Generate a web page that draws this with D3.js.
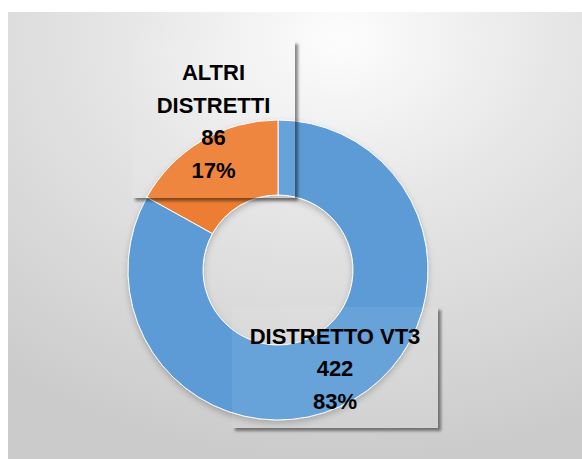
<!DOCTYPE html>
<html>
<head>
<meta charset="utf-8">
<script src="https://cdn.jsdelivr.net/npm/d3@7"></script>
<style>
  body { margin: 0; background: #fff; }
  svg { display: block; }
</style>
</head>
<body>
<div id="chart"></div>
<script>
const width = 582, height = 459;

// data
const categories = ["DISTRETTO VT3", "ALTRI DISTRETTI"];
const values = [422, 86];
const labelLines = [["DISTRETTO VT3"], ["ALTRI", "DISTRETTI"]];
const colors = ["#5B9BD5", "#ED7D31"];

// layout
const panel = { x: 8, y: 12, w: 574, h: 447 };
const cx = 278, cy = 270, outerR = 150, innerR = 75;
const labelBoxes = [
  { x: 232, y: 307, w: 206, h: 121, dy: 1 },
  { x: 132, y: 41, w: 163, h: 157, dy: 2 }
];

const svg = d3.select("#chart").append("svg")
  .attr("width", width)
  .attr("height", height);

const defs = svg.append("defs");

const bg = defs.append("radialGradient")
  .attr("id", "bgGrad")
  .attr("cx", 0.58).attr("cy", 0.06).attr("r", 0.95)
  .attr("fx", 0.58).attr("fy", 0.06);
bg.append("stop").attr("offset", "0%").attr("stop-color", "#fdfdfd");
bg.append("stop").attr("offset", "40%").attr("stop-color", "#e6e6e6");
bg.append("stop").attr("offset", "100%").attr("stop-color", "#cbcbcb");

const donutShadow = defs.append("filter").attr("id", "donutShadow")
  .attr("x", "-20%").attr("y", "-20%").attr("width", "140%").attr("height", "140%");
donutShadow.append("feDropShadow")
  .attr("dx", 0).attr("dy", 3).attr("stdDeviation", 3)
  .attr("flood-color", "#000").attr("flood-opacity", 0.22);

const blur = defs.append("filter").attr("id", "boxBlur")
  .attr("x", "-20%").attr("y", "-20%").attr("width", "140%").attr("height", "140%");
blur.append("feGaussianBlur").attr("stdDeviation", 1.6);

svg.append("rect")
  .attr("x", panel.x).attr("y", panel.y)
  .attr("width", panel.w).attr("height", panel.h)
  .attr("fill", "url(#bgGrad)");

const pie = d3.pie().sort(null).value(d => d);
const arc = d3.arc().innerRadius(innerR).outerRadius(outerR);
const arcs = pie(values);

const g = svg.append("g")
  .attr("transform", `translate(${cx},${cy})`)
  .attr("filter", "url(#donutShadow)");

g.selectAll("path")
  .data(arcs)
  .join("path")
  .attr("d", arc)
  .attr("fill", (d, i) => colors[i])
  .attr("stroke", "#fff")
  .attr("stroke-width", 1);

// label boxes with shadow outside the box only
const fmtPct = d3.format(".0%");
const total = d3.sum(values);

labelBoxes.forEach((b, i) => {
  const clipId = "clipOut" + i;
  defs.append("clipPath").attr("id", clipId)
    .append("path")
    .attr("clip-rule", "evenodd")
    .attr("d", `M0,0H${width}V${height}H0Z M${b.x},${b.y}H${b.x + b.w}V${b.y + b.h}H${b.x}Z`);

  svg.append("g").attr("clip-path", `url(#${clipId})`)
    .append("rect")
    .attr("x", b.x + 3).attr("y", b.y + 3)
    .attr("width", b.w).attr("height", b.h)
    .attr("fill", "#000").attr("fill-opacity", 0.45)
    .attr("filter", "url(#boxBlur)");

  svg.append("rect")
    .attr("x", b.x).attr("y", b.y)
    .attr("width", b.w).attr("height", b.h)
    .attr("fill", "#fff").attr("fill-opacity", 0.07);

  const lines = labelLines[i].concat([String(values[i]), fmtPct(values[i] / total)]);
  const lineH = 32.5;
  const midX = b.x + b.w / 2;
  const firstBase = b.y + b.h / 2 - (lines.length - 1) * lineH / 2 + 7.5 + b.dy;

  svg.append("text")
    .attr("text-anchor", "middle")
    .attr("font-family", "'Liberation Sans', Arial, sans-serif")
    .attr("font-weight", "bold")
    .attr("font-size", 22)
    .attr("fill", "#000")
    .selectAll("tspan")
    .data(lines)
    .join("tspan")
    .attr("x", midX)
    .attr("y", (d, k) => firstBase + k * lineH)
    .text(d => d);
});
</script>
</body>
</html>
